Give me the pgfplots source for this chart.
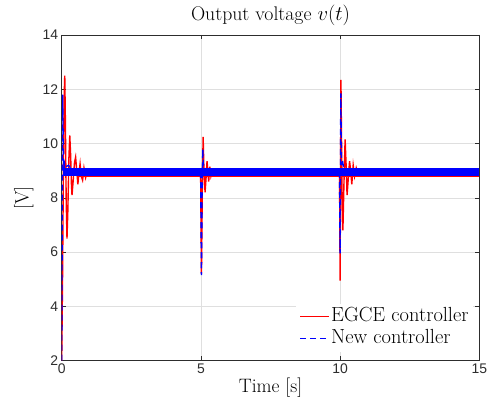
\documentclass[border=0pt]{standalone}
\usepackage{fontspec}
\newfontfamily\ticksans{Liberation Sans}
\usepackage{pgfplots}
\pgfplotsset{compat=1.18}
\definecolor{gridgray}{RGB}{223,223,223}
\definecolor{axgray}{RGB}{45,45,45}
\begin{document}
\begin{tikzpicture}
\begin{axis}[
  scale only axis, width=417.6bp, height=325.7bp,
  xmin=0, xmax=15, ymin=2, ymax=14,
  xtick={0,5,10,15}, ytick={2,4,6,8,10,12,14},
  grid=major, major grid style={gridgray, line width=0.6bp},
  axis line style={axgray, line width=0.6bp},
  tick style={axgray, line width=0.6bp},
  tick align=inside, major tick length=4.5bp,
  ticklabel style={font=\ticksans\fontsize{14}{16}\selectfont, text=axgray},
  /pgf/number format/assume math mode=true,
  title={Output voltage $v(t)$},
  title style={font=\fontsize{19.8}{22}\selectfont, at={(axis description cs:0.5,1.046)}, anchor=base, yshift=-6pt},
  xlabel={Time [s]},
  xlabel style={font=\fontsize{19.5}{21}\selectfont, at={(axis description cs:0.5,-0.0961)}, anchor=base},
  ylabel={[V]},
  ylabel style={font=\fontsize{19.5}{21}\selectfont, at={(axis description cs:-0.091,0.5)}, anchor=center},
  legend style={at={(axis description cs:1,0)}, anchor=south east, xshift=-6bp, yshift=9bp,
    draw=none, fill=white, font=\fontsize{20.5}{22}\selectfont, row sep=0bp,
    nodes={text height=14.5bp, text depth=4.5bp, inner sep=1.5bp}},
  legend cell align=left,
  legend image post style={xscale=1.7},
]
% red steady ripple band
\addplot[red, line width=8bp, forget plot] coordinates {(0.6,8.92) (15,8.92)};
% red transients
\addplot[red, line width=1.4bp] coordinates {
(0,2)(0.03,5)(0.06,9)(0.09,11.8)(0.11,12.5)(0.13,11)(0.16,8)(0.19,6.5)(0.22,7.5)(0.26,9.5)(0.29,10.3)(0.32,9.6)(0.35,8.5)(0.37,8.1)(0.41,8.6)(0.46,9.3)(0.5,9.5)(0.54,9.0)(0.58,8.5)(0.62,8.9)(0.66,9.25)(0.7,8.8)(0.75,8.65)(0.8,9.1)(0.86,8.75)(0.92,9.0)(1.0,8.85)};
\addlegendentry{EGCE controller}
\addplot[red, line width=1.4bp, forget plot] coordinates {
(4.99,8.9)(5.02,5.2)(5.05,8.3)(5.08,10.25)(5.11,9)(5.15,8.2)(5.19,8.8)(5.22,9.35)(5.25,9.0)(5.28,8.6)(5.32,9.15)(5.36,8.8)(5.41,9.0)(5.46,8.9)};
\addplot[red, line width=1.4bp, forget plot] coordinates {
(9.98,8.9)(10.0,4.95)(10.03,12.35)(10.07,8.2)(10.1,6.8)(10.14,8.6)(10.18,10.15)(10.22,9.1)(10.25,8.1)(10.3,8.8)(10.34,9.35)(10.38,9.0)(10.42,8.5)(10.47,9.2)(10.52,8.8)(10.58,9.1)(10.65,8.85)(10.72,9.0)(10.8,8.9)};
% blue steady ripple band
\addplot[blue, line width=8bp, forget plot] coordinates {(0.05,8.95) (15,8.95)};
% blue transients
\addplot[blue, line width=1.4bp, dash pattern=on 6bp off 4bp] coordinates {
(0,2)(0.035,11.8)(0.06,9.5)(0.075,8.9)(0.1,9.3)(0.15,9.15)(0.25,9.2)(0.35,9.05)(0.45,9.0)};
\addlegendentry{New controller}
\addplot[blue, line width=1.4bp, dash pattern=on 6bp off 4bp, forget plot] coordinates {
(4.99,8.95)(5.02,5.15)(5.045,8.6)(5.07,9.8)(5.095,9.0)(5.12,9.05)(5.2,8.95)};
\addplot[blue, line width=1.4bp, dash pattern=on 6bp off 4bp, forget plot] coordinates {
(9.98,8.95)(10.0,5.95)(10.025,11.85)(10.05,9.2)(10.08,9.4)(10.12,9.15)(10.2,9.05)(10.3,9.0)};
\end{axis}
\pgfresetboundingbox
\path[use as bounding box] (-61.7bp,-47.3bp) rectangle (432.3bp,360.7bp);
\end{tikzpicture}
\end{document}
